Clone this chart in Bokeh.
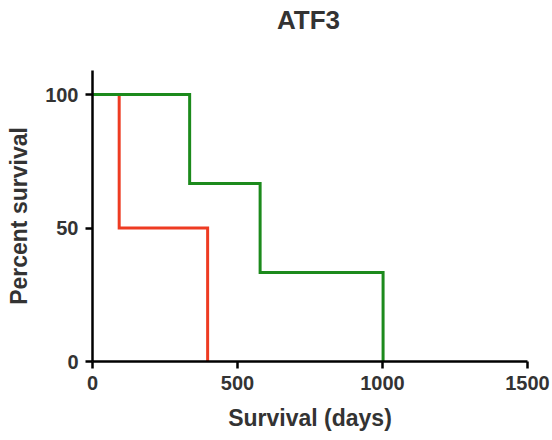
from bokeh.plotting import figure
from bokeh.models import Range1d, FixedTicker, Div
from bokeh.layouts import column
from bokeh.embed import file_html
from bokeh.resources import INLINE

# Kaplan-Meier survival data (days, percent survival)
red_days = [0, 92, 397]
red_surv = [100, 50, 0]
green_days = [0, 335, 578, 1002]
green_surv = [100, 66.7, 33.3, 0]

x_ticks = [0, 500, 1000, 1500]
y_ticks = [0, 50, 100]
title_text = "ATF3"

FONT = "Liberation Sans"
TXT = "#333333"

title_div = Div(
    text=(f'<div style="font-family:\'{FONT}\'; font-size:26px; font-weight:bold; color:{TXT};'
          f' text-align:center; width:485px; margin-left:66px; padding-top:5px;'
          f' line-height:normal; margin-top:0;">{title_text}</div>'),
    width=552, height=44, margin=0)

p = figure(width=552, height=396, output_backend="svg", toolbar_location=None,
           x_range=Range1d(0, 1500), y_range=Range1d(0, 109),
           min_border_left=92, min_border_right=25, min_border_top=26, min_border_bottom=79)
p.outline_line_color = None
p.xgrid.visible = False
p.ygrid.visible = False

p.step(red_days, red_surv, mode="after", line_color="#ee3b22", line_width=3, line_join="miter")
p.step(green_days, green_surv, mode="after", line_color="#1c8a1c", line_width=3, line_join="miter")

for ax in (p.xaxis[0], p.yaxis[0]):
    ax.axis_line_color = "black"
    ax.axis_line_width = 2.5
    ax.major_tick_line_color = "black"
    ax.major_tick_line_width = 2.5
    ax.major_tick_out = 7
    ax.major_tick_in = 0
    ax.minor_tick_line_color = None
    ax.major_label_text_font = FONT
    ax.major_label_text_font_size = "20px"
    ax.major_label_text_font_style = "bold"
    ax.major_label_text_color = TXT
    ax.major_label_standoff = 7
    ax.axis_label_text_font = FONT
    ax.axis_label_text_font_size = "23px"
    ax.axis_label_text_font_style = "bold"
    ax.axis_label_text_color = TXT

p.xaxis[0].ticker = FixedTicker(ticks=x_ticks)
p.yaxis[0].ticker = FixedTicker(ticks=y_ticks)
p.xaxis[0].axis_label = "Survival (days)"
p.yaxis[0].axis_label = "Percent survival"
p.xaxis[0].axis_label_standoff = 12
p.yaxis[0].axis_label_standoff = 10

layout = column(title_div, p)
open("out.html", "w").write(file_html(layout, INLINE))
